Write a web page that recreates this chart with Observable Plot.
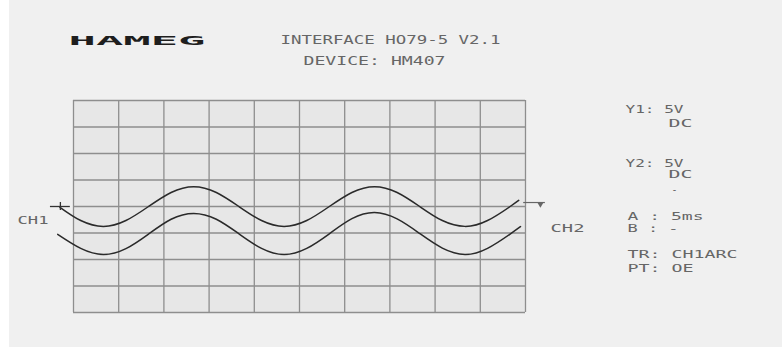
<!DOCTYPE html>
<html><head><meta charset="utf-8">
<script src="https://cdn.jsdelivr.net/npm/d3@7"></script>
<script src="https://cdn.jsdelivr.net/npm/@observablehq/plot@0.6"></script>
<style>
html,body{margin:0;padding:0;background:#fff;}
#chart svg{display:block;background:linear-gradient(to right,#fff 0 9px,#f0f0f0 9px);}
</style>
</head><body><div id="chart"></div>
<script>
// Screen divisions
const xDivs = [0,1,2,3,4,5,6,7,8,9,10];
const yDivs = [-4,-3,-2,-1,0,1,2,3,4];

// CH1 trace (time in divisions, value in divisions)
const ch1T = [-0.30,0.16,0.66,1.16,1.66,2.16,2.66,3.16,3.66,4.16,4.66,5.16,5.66,6.16,6.66,7.16,7.66,8.16,8.66,9.16,9.66,9.85];
const ch1V = [-0.03,-0.53,-0.75,-0.53,0.00,0.53,0.75,0.53,0.00,-0.53,-0.75,-0.53,0.00,0.53,0.75,0.53,0.00,-0.53,-0.75,-0.53,0.00,0.23];

// CH2 trace
const ch2T = [-0.35,0.16,0.66,1.16,1.66,2.16,2.66,3.16,3.66,4.16,4.66,5.16,5.66,6.16,6.66,7.16,7.66,8.16,8.66,9.16,9.66,9.89];
const ch2V = [-1.05,-1.58,-1.81,-1.59,-1.04,-0.48,-0.26,-0.48,-1.03,-1.58,-1.81,-1.58,-1.03,-0.46,-0.23,-0.47,-1.02,-1.57,-1.81,-1.58,-1.04,-0.76];

// Reference markers
const ch1Marker = {level: 0.0, from: -0.51, to: -0.07, tick: -0.29};
const trigMarker = {level: 0.15, from: 9.96, to: 10.44, arrow: 10.33};

// Texts
const brand = "HAMEG";
const header1 = "INTERFACE HO79-5 V2.1";
const header2 = "DEVICE: HM407";
const infoLines = ["Y1: 5V","DC","Y2: 5V","DC","-","A : 5ms","B : -","TR: CH1ARC","PT: OE"];
const channelLabels = ["CH1","CH2"];

const ch1 = ch1T.map((t,i)=>({t, v: ch1V[i]}));
const ch2 = ch2T.map((t,i)=>({t, v: ch2V[i]}));

const lengths = {"HAMEG":137,"INTERFACE HO79-5 V2.1":220,"DEVICE: HM407":142,"Y1: 5V":58,"DC":24,"Y2: 5V":58,
  "-":6,"A : 5ms":76,"B : -":51,"TR: CH1ARC":110,"PT: OE":66,"CH1":31,"CH2":34};

const font = "'DejaVu Sans Mono', monospace";
function label(text, x, y, o={}) {
  return Plot.text([text], {text: d=>d, frameAnchor:"top-left", dx:x, dy:y, textAnchor:"start", lineAnchor:"middle",
    fontFamily: font, fontSize: o.size||11, fill: o.fill||"#666", fontWeight: o.weight||"normal"});
}
const infoPos = [[625,108.5],[668,122.5],[625,162.5],[668,174],[671,189],[627,216],[627,227.5],[627,254],[627,267.5]];

const plot = Plot.plot({
  width: 782, height: 347, margin: 0,
  x: {domain: [-1.615, 15.686], axis: null},
  y: {domain: [-5.321, 7.774], axis: null},
  marks: [
    Plot.rect([0], {x1: 0, x2: 10, y1: -4, y2: 4, fill: "#e7e7e7"}),
    Plot.ruleX(xDivs, {y1: -4, y2: 4, stroke: "#8e8e8e", strokeWidth: 1.3}),
    Plot.ruleY(yDivs, {x1: 0, x2: 10, stroke: "#8e8e8e", strokeWidth: 1.3}),
    Plot.line(ch1, {x: "t", y: "v", curve: "natural", stroke: "#2a2a2a", strokeWidth: 1.5}),
    Plot.line(ch2, {x: "t", y: "v", curve: "natural", stroke: "#2a2a2a", strokeWidth: 1.5}),
    Plot.ruleY([ch1Marker.level], {x1: ch1Marker.from, x2: ch1Marker.to, stroke: "#333", strokeWidth: 1.3}),
    Plot.ruleX([ch1Marker.tick], {y1: ch1Marker.level - 0.15, y2: ch1Marker.level + 0.15, stroke: "#333", strokeWidth: 1.3}),
    Plot.ruleY([trigMarker.level], {x1: trigMarker.from, x2: trigMarker.to, stroke: "#666", strokeWidth: 1.2}),
    Plot.dot([trigMarker.arrow], {x: d=>d, y: trigMarker.level - 0.05, symbol: "triangle", rotate: 180, r: 2.5, fill: "#666", stroke: "none"}),
    label(brand, 68, 40, {size: 13, weight: "bold", fill: "#1e1e1e"}),
    label(header1, 280, 40, {size: 12}),
    label(header2, 303, 61, {size: 12}),
    ...infoLines.map((t,i)=>label(t, infoPos[i][0], infoPos[i][1], {size: 11})),
    label(channelLabels[0], 17, 220, {size: 11}),
    label(channelLabels[1], 550, 228, {size: 11})
  ]
});
d3.select(plot).selectAll("text").each(function(){
  const t = this.textContent;
  if (lengths[t]) { this.setAttribute("textLength", lengths[t]); this.setAttribute("lengthAdjust", "spacingAndGlyphs"); }
});
document.getElementById("chart").append(plot);
</script>
</body></html>
